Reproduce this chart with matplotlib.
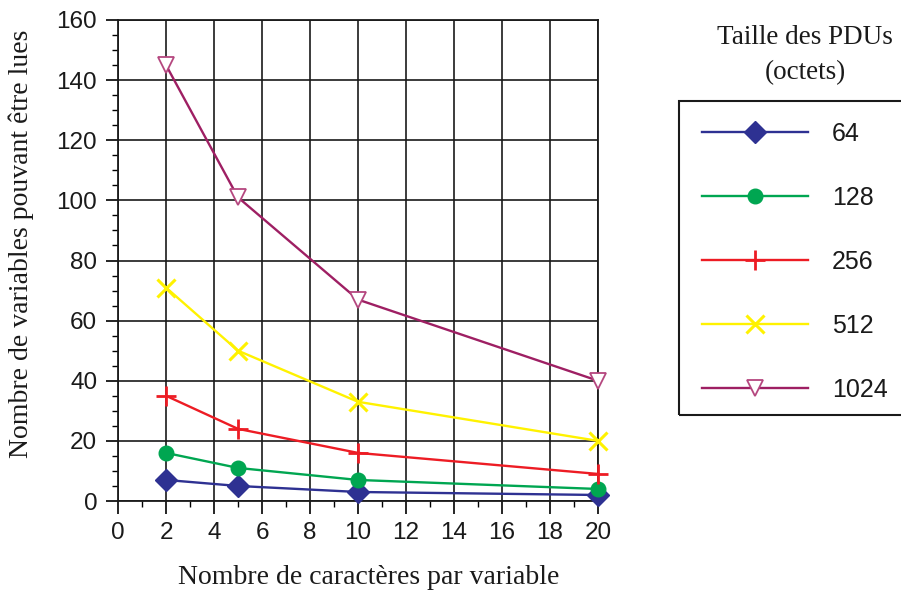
import matplotlib
matplotlib.use("Agg")
import matplotlib.pyplot as plt
from matplotlib.patches import Rectangle
from matplotlib.ticker import MultipleLocator

# Characters per variable
chars = [2, 5, 10, 20]

# Number of readable variables for each PDU size (bytes)
pdu_sizes = ["64", "128", "256", "512", "1024"]
vals_64 = [7, 5, 3, 2]
vals_128 = [16, 11, 7, 4]
vals_256 = [35, 24, 16, 9]
vals_512 = [71, 50, 33, 20]
vals_1024 = [145, 101, 67, 40]

x_ticks = [0, 2, 4, 6, 8, 10, 12, 14, 16, 18, 20]
y_ticks = [0, 20, 40, 60, 80, 100, 120, 140, 160]

sans = ["Liberation Sans", "DejaVu Sans"]
serif = ["Liberation Serif", "DejaVu Serif"]

W, H = 901, 592
fig = plt.figure(figsize=(W / 100, H / 100), dpi=100)
ax = fig.add_axes([118 / W, 1 - 501 / H, 480 / W, 481 / H])

styles = [
    (vals_64, dict(color="#2E3192", marker="D", markersize=11, mfc="#2E3192", mec="#2E3192")),
    (vals_128, dict(color="#00A651", marker="o", markersize=10.5, mfc="#00A651", mec="#00A651")),
    (vals_256, dict(color="#ED1C24", marker="+", markersize=15, mew=2, mec="#ED1C24")),
    (vals_512, dict(color="#FFF200", marker="x", markersize=13.5, mew=2.2, mec="#FFF200")),
    (vals_1024, dict(color="#9E1F63", marker="v", markersize=11, mfc="white", mec="#B5477F", mew=1.3)),
]

handles = []
for (vals, st), lab in zip(styles, pdu_sizes):
    (h,) = ax.plot(chars, vals, lw=1.7, label=lab, clip_on=False, zorder=3, **st)
    handles.append(h)

ax.set_xlim(0, 20)
ax.set_ylim(0, 160)
ax.set_xticks(x_ticks)
ax.set_yticks(y_ticks)
ax.xaxis.set_minor_locator(MultipleLocator(1))
ax.yaxis.set_minor_locator(MultipleLocator(5))
ax.grid(True, which="major", color="#1a1a1a", lw=1.2)
ax.set_axisbelow(True)
for s in ax.spines.values():
    s.set_linewidth(1.3)
    s.set_color("#1a1a1a")

ax.tick_params(axis="x", which="major", direction="out", length=9, width=1.2,
               pad=6, labelsize=17.5)
ax.tick_params(axis="x", which="minor", direction="out", length=4.5, width=1.0)
ax.tick_params(axis="y", which="major", direction="out", length=9, width=1.2,
               pad=6, labelsize=17.5)
ax.tick_params(axis="y", which="minor", direction="out", length=4.5, width=1.0)
for lbl in ax.get_xticklabels() + ax.get_yticklabels():
    lbl.set_family(sans)
    lbl.set_color("#1a1a1a")

fig.text(369 / W, 1 - 578 / H, "Nombre de caractères par variable",
         family=serif, fontsize=20, ha="center", va="center", color="#1a1a1a")
fig.text(21 / W, 1 - 244 / H, "Nombre de variables pouvant être lues",
         family=serif, fontsize=20, ha="center", va="center", rotation=90,
         color="#1a1a1a")

fig.text(805 / W, 1 - 37 / H, "Taille des PDUs", family=serif,
         fontsize=19.5, ha="center", va="center", color="#1a1a1a")
fig.text(805 / W, 1 - 73 / H, "(octets)", family=serif,
         fontsize=19.5, ha="center", va="center", color="#1a1a1a")

# Legend frame, running off the right edge
fig.patches.append(Rectangle((679 / W, 1 - 415 / H), 240 / W, 314 / H,
                             transform=fig.transFigure, fill=False,
                             edgecolor="#1a1a1a", lw=1.5))

leg = fig.legend(handles=handles, labels=pdu_sizes, loc="center left",
                 bbox_to_anchor=(702 / W, 1 - 262 / H),
                 prop={"family": sans, "size": 18}, frameon=False,
                 handlelength=4.24, handletextpad=0.96,
                 labelspacing=1.6, borderpad=0, borderaxespad=0,
                 numpoints=1)
for t in leg.get_texts():
    t.set_color("#1a1a1a")

fig.savefig("out.png", dpi=100)
